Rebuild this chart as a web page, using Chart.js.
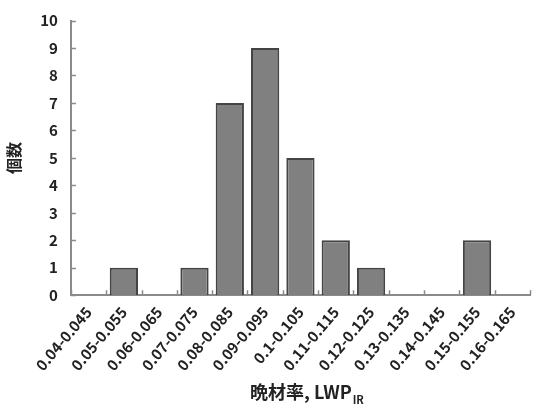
<!DOCTYPE html>
<html>
<head>
<meta charset="utf-8">
<script src="https://cdn.jsdelivr.net/npm/chart.js@4"></script>
<style>
  html, body { margin: 0; padding: 0; background: #fff; }
  #wrap { width: 537px; height: 417px; }
</style>
</head>
<body>
<div id="wrap"><canvas id="myChart" width="537" height="417"></canvas></div>
<script>
// 階級と個数
let categories = ['0.04-0.045', '0.05-0.055', '0.06-0.065', '0.07-0.075', '0.08-0.085', '0.09-0.095',
    '0.1-0.105', '0.11-0.115', '0.12-0.125', '0.13-0.135', '0.14-0.145', '0.15-0.155', '0.16-0.165'];
let counts = [0, 1, 0, 1, 7, 9, 5, 2, 1, 0, 0, 2, 0];
let yTicks = [0, 1, 2, 3, 4, 5, 6, 7, 8, 9, 10];

let fontFamily = '"Noto Sans CJK JP", "Noto Sans", sans-serif';
let axisColor = '#8a8a8a';

// 内向きの目盛りと x 軸タイトル（下付き文字）を描く
const extras = {
    id: 'extras',
    afterDraw(chart) {
        const ctx = chart.ctx;
        const x = chart.scales.x;
        const y = chart.scales.y;
        const area = chart.chartArea;
        ctx.save();
        ctx.strokeStyle = axisColor;
        ctx.lineWidth = 1.5;
        // y 軸目盛り
        yTicks.forEach(v => {
            let py = Math.round(y.getPixelForValue(v)) + 0.5;
            ctx.beginPath();
            ctx.moveTo(area.left, py);
            ctx.lineTo(area.left + 5, py);
            ctx.stroke();
        });
        // x 軸目盛り（階級の境界）
        let step = x.getPixelForValue(1) - x.getPixelForValue(0);
        for (let i = 0; i <= categories.length; i++) {
            let px = x.getPixelForValue(0) - step / 2 + step * i;
            px = Math.round(px) + 0.5;
            ctx.beginPath();
            ctx.moveTo(px, area.bottom);
            ctx.lineTo(px, area.bottom - 5);
            ctx.stroke();
        }
        // x 軸タイトル
        ctx.fillStyle = '#222';
        ctx.textBaseline = 'alphabetic';
        let main = '晩材率, LWP';
        ctx.font = 'bold 18px ' + fontFamily;
        let w1 = ctx.measureText(main).width;
        ctx.font = 'bold 11px ' + fontFamily;
        let w2 = ctx.measureText('IR').width;
        let cx = (area.left + area.right) / 2 + 6;
        let startX = cx - (w1 + w2) / 2;
        let baseY = 399;
        ctx.font = 'bold 18px ' + fontFamily;
        ctx.textAlign = 'left';
        ctx.fillText(main, startX, baseY);
        ctx.font = 'bold 11px ' + fontFamily;
        ctx.fillText('IR', startX + w1 + 1, baseY + 5);
        ctx.restore();
    }
};

const ctx = document.getElementById('myChart').getContext('2d');
const myChart = new Chart(ctx, {
    type: 'bar',
    data: {
        labels: categories,
        datasets: [{
            label: '個数',
            data: counts,
            backgroundColor: '#808080',
            borderColor: '#444444',
            borderWidth: 2,
            categoryPercentage: 0.8,
            barPercentage: 1.0
        }]
    },
    options: {
        responsive: false,
        animation: false,
        layout: { padding: { top: -20, right: 7, left: 4, bottom: 35 } },
        plugins: {
            legend: { display: false },
            tooltip: { enabled: false }
        },
        scales: {
            x: {
                grid: { display: false, drawTicks: false },
                border: { color: axisColor, width: 2 },
                ticks: {
                    autoSkip: false,
                    maxRotation: 50,
                    minRotation: 50,
                    padding: 8,
                    color: '#222',
                    font: { family: fontFamily, size: 15, weight: 'bold' }
                }
            },
            y: {
                min: 0,
                max: 10,
                grid: { display: false, drawTicks: false },
                border: { color: axisColor, width: 2 },
                ticks: {
                    stepSize: 1,
                    padding: 13,
                    color: '#222',
                    font: { family: fontFamily, size: 15, weight: 'bold', lineHeight: 1 }
                },
                title: {
                    display: true,
                    text: '個数',
                    color: '#222',
                    padding: { top: 0, bottom: 4 },
                    font: { family: fontFamily, size: 16, weight: 'bold' }
                }
            }
        }
    },
    plugins: [extras]
});
</script>
</body>
</html>
